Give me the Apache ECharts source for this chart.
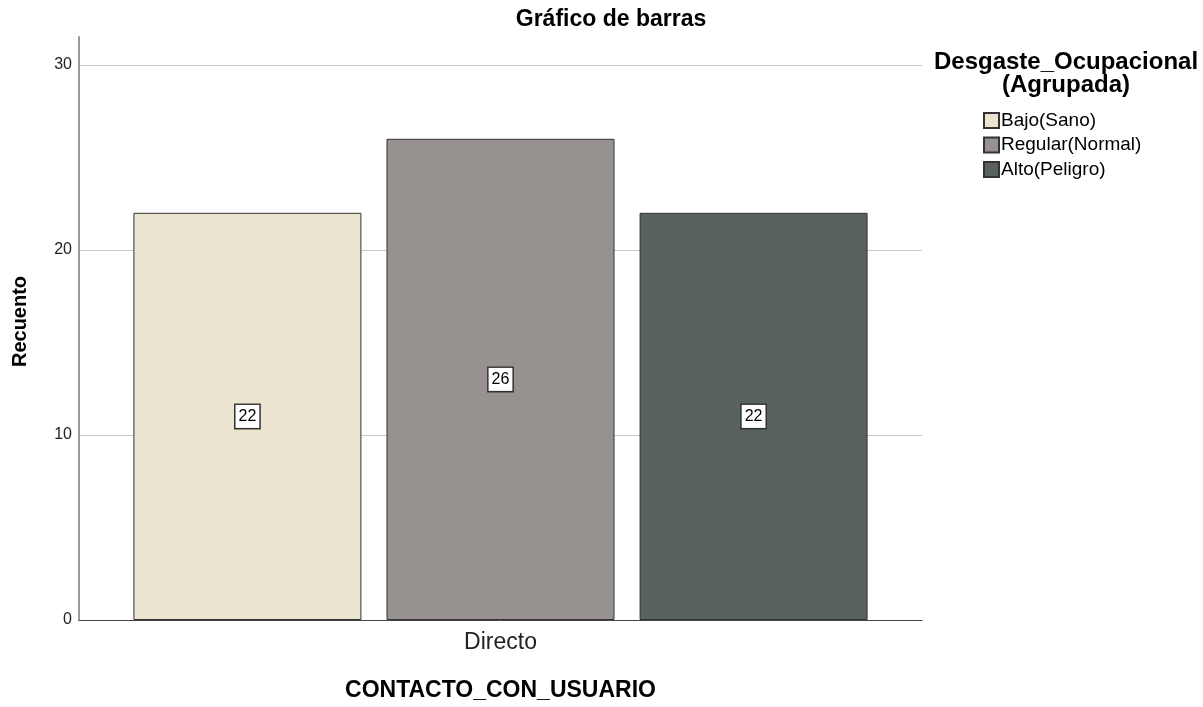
<!DOCTYPE html>
<html>
<head>
<meta charset="utf-8">
<script src="https://cdn.jsdelivr.net/npm/echarts@6/dist/echarts.min.js"></script>
<style>
  html, body { margin: 0; padding: 0; background: #fff; }
  #chart { width: 1203px; height: 707px; }
</style>
</head>
<body>
<div id="chart"></div>
<script>
// Counts by group, for the single contact category
const categories = ['Directo'];
const groupNames = ['Bajo(Sano)', 'Regular(Normal)', 'Alto(Peligro)'];
const bajoValues = [22];
const regularValues = [26];
const altoValues = [22];
const groupColors = ['#EAE4D0', '#97918F', '#59625C'];

const fontFamily = '"Liberation Sans", Arial, sans-serif';
const seriesValues = [bajoValues, regularValues, altoValues];

const chart = echarts.init(document.getElementById('chart'));

chart.setOption({
  animation: false,
  textStyle: { fontFamily: fontFamily },
  title: [
    {
      text: 'Gráfico de barras',
      left: 611,
      textAlign: 'center',
      top: 8,
      padding: 0,
      textStyle: { fontFamily: fontFamily, fontSize: 23, fontWeight: 'bold', color: '#000' }
    },
    {
      text: 'Desgaste_Ocupacional\n(Agrupada)',
      left: 1066,
      textAlign: 'center',
      top: 51,
      padding: 0,
      textStyle: { fontFamily: fontFamily, fontSize: 24, fontWeight: 'bold', color: '#000', lineHeight: 23, align: 'center' }
    }
  ],
  legend: {
    orient: 'vertical',
    left: 983,
    top: 111,
    padding: 0,
    itemWidth: 15,
    itemHeight: 15,
    itemGap: 5.5,
    icon: 'rect',
    textStyle: { fontFamily: fontFamily, fontSize: 19, lineHeight: 15, color: '#000', padding: [0, 0, 0, -3] },
    data: groupNames
  },
  grid: { left: 79, right: 281, top: 37, bottom: 86, containLabel: false },
  xAxis: {
    type: 'category',
    data: categories,
    name: 'CONTACTO_CON_USUARIO',
    nameLocation: 'middle',
    nameGap: 59,
    nameTextStyle: { fontFamily: fontFamily, fontSize: 23, fontWeight: 'bold', color: '#000' },
    axisLine: { lineStyle: { color: '#444', width: 1 } },
    axisTick: { show: false },
    axisLabel: { fontFamily: fontFamily, fontSize: 23, color: '#222', margin: 11 }
  },
  yAxis: {
    type: 'value',
    min: 0,
    max: 31.5,
    interval: 10,
    name: 'Recuento',
    nameLocation: 'middle',
    nameGap: 49,
    nameTextStyle: { fontFamily: fontFamily, fontSize: 20, fontWeight: 'bold', color: '#000', padding: [0, 0, 0, 14] },
    axisLine: { show: true, lineStyle: { color: '#999', width: 2 } },
    axisTick: { show: false },
    axisLabel: { fontFamily: fontFamily, fontSize: 16, color: '#222', margin: 7, showMaxLabel: false },
    splitLine: { show: true, showMaxLine: false, showMinLine: false, lineStyle: { color: '#C8C8C8', width: 1 } }
  },
  series: groupNames.map((name, i) => ({
    name: name,
    type: 'bar',
    data: seriesValues[i],
    barWidth: 228,
    barGap: '11%',
    itemStyle: { color: groupColors[i], borderColor: '#333', borderWidth: 1 },
    label: {
      show: true,
      position: 'inside',
      fontFamily: fontFamily,
      fontSize: 16,
      color: '#000',
      backgroundColor: '#fff',
      borderColor: '#333',
      borderWidth: 1.5,
      padding: [4, 3, 3, 3]
    }
  }))
});
</script>
</body>
</html>
